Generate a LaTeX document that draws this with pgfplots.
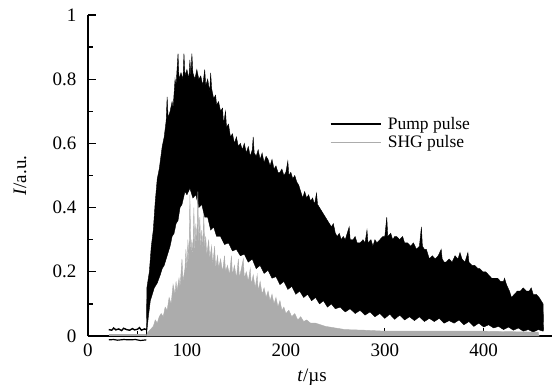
\documentclass[border=0pt]{standalone}
\usepackage{pgfplots}
\pgfplotsset{compat=1.18}
\usepackage{fontspec}
\setmainfont{Liberation Serif}
\definecolor{shg}{RGB}{172,172,172}
\begin{document}
\begin{tikzpicture}
\begin{axis}[
  scale only axis, width=464bp, height=321bp,
  xmin=0, xmax=469, ymin=0, ymax=1,
  axis x line=bottom, axis y line=left,
  axis line style={line width=2pt, -},
  xtick={0,100,200,300,400}, minor xtick={50,150,250,350,450},
  ytick={0,0.2,0.4,0.6,0.8,1}, minor ytick={0.1,0.3,0.5,0.7,0.9},
  yticklabels={0,0.2,0.4,0.6,0.8,1},
  tick align=inside,
  major tick length=8bp, minor tick length=5bp,
  every tick/.style={black, line width=1.4pt},
  /pgf/number format/assume math mode=true,
  tick label style={font=\fontsize{19bp}{22bp}\selectfont},
  xticklabel style={yshift=-4bp},
  yticklabel style={xshift=-8bp},
  label style={font=\fontsize{19bp}{22bp}\selectfont},
  xlabel={\textit{t}/µs}, ylabel={\textit{I}/a.u.},
  xlabel style={at={(axis description cs:0.483,-0.092)}, anchor=north},
  ylabel style={at={(axis description cs:-0.125,0.5)}, anchor=south},
  clip=false,
  legend style={draw=none, fill=none, at={(0.513,0.695)}, anchor=north west,
    font=\fontsize{17.5bp}{21bp}\selectfont, row sep=1bp},
  legend cell align=left,
  legend image code/.code={\draw[#1] (0bp,0bp) -- (50bp,0bp); \path (54bp,0bp);},
]
% Pump pulse: band between upper and lower envelope
\addplot[draw=black, line width=0.4pt, fill=black, forget plot] coordinates {
(59,0.0) (59.5,0.15) (62,0.2) (64,0.28) (66,0.33) (68,0.42) (70,0.49) (72,0.52) (75,0.59) (77,0.62) (79,0.67) (80,0.745) (81,0.68) (83,0.70) (85,0.73) (86,0.71) (88,0.80) (89,0.78) (91,0.88) (92,0.80) (94,0.82) (96,0.80) (97,0.88) (98,0.81) (100,0.83) (102,0.80) (103,0.86) (104,0.81) (105,0.88) (106,0.82) (108,0.80) (110,0.83) (112,0.80) (114,0.81) (116,0.78) (118,0.83) (119,0.78) (121,0.80) (123,0.76) (124,0.82) (125,0.77) (127,0.74) (129,0.75) (130,0.72) (132,0.73) (134,0.70) (136,0.71) (137,0.66) (139,0.70) (140,0.65) (142,0.66) (144,0.62) (146,0.63) (148,0.60) (150,0.62) (152,0.59) (154,0.60) (156,0.58) (158,0.60) (160,0.57) (162,0.59) (164,0.56) (166,0.58) (167,0.62) (168,0.57) (170,0.56) (172,0.58) (174,0.55) (176,0.57) (178,0.54) (180,0.56) (182,0.55) (184,0.53) (186,0.55) (188,0.52) (190,0.53) (192,0.51) (194,0.51) (196,0.52) (198,0.50) (200,0.51) (202,0.545) (203,0.50) (205,0.51) (207,0.49) (209,0.50) (211,0.48) (213,0.47) (215,0.45) (217,0.43) (219,0.45) (221,0.43) (223,0.44) (225,0.42) (227,0.43) (229,0.41) (231,0.445) (232,0.41) (234,0.40) (236,0.39) (238,0.38) (240,0.37) (242,0.36) (244,0.35) (246,0.34) (248,0.35) (250,0.32) (252,0.31) (254,0.32) (256,0.30) (258,0.31) (260,0.30) (262,0.32) (264,0.34) (265,0.30) (268,0.30) (270,0.31) (272,0.29) (275,0.29) (278,0.30) (280,0.29) (282,0.33) (283,0.29) (286,0.30) (288,0.28) (290,0.30) (292,0.29) (295,0.30) (298,0.31) (300,0.31) (302,0.37) (303,0.31) (306,0.32) (308,0.30) (310,0.31) (312,0.31) (315,0.30) (318,0.31) (320,0.29) (323,0.29) (326,0.28) (329,0.29) (332,0.27) (335,0.28) (337,0.34) (338,0.28) (340,0.27) (342,0.27) (345,0.24) (348,0.25) (351,0.24) (354,0.25) (357,0.27) (358,0.24) (360,0.23) (362,0.23) (365,0.24) (368,0.23) (371,0.25) (374,0.24) (376,0.26) (378,0.24) (381,0.23) (384,0.26) (385,0.23) (388,0.22) (391,0.22) (394,0.21) (396,0.21) (399,0.20) (402,0.20) (405,0.19) (408,0.18) (411,0.18) (414,0.18) (417,0.17) (420,0.17) (421,0.18) (423,0.16) (426,0.14) (428,0.12) (431,0.13) (434,0.14) (437,0.14) (440,0.15) (443,0.14) (446,0.14) (448,0.15) (450,0.13) (453,0.13) (456,0.12) (458,0.11) (460,0.10) (460.5,0.02)
(460,0.015) (455,0.02) (450,0.012) (445,0.02) (440,0.015) (435,0.025) (430,0.018) (425,0.028) (420,0.02) (415,0.03) (410,0.025) (405,0.035) (400,0.028) (395,0.04) (390,0.03) (385,0.045) (380,0.035) (375,0.05) (370,0.04) (365,0.048) (360,0.04) (355,0.055) (350,0.045) (345,0.055) (340,0.045) (335,0.06) (330,0.048) (325,0.06) (320,0.05) (315,0.065) (310,0.052) (305,0.068) (300,0.055) (295,0.07) (290,0.06) (285,0.075) (280,0.065) (275,0.08) (270,0.07) (265,0.085) (260,0.075) (255,0.09) (250,0.085) (246,0.10) (242,0.09) (238,0.11) (234,0.10) (230,0.12) (226,0.11) (222,0.13) (218,0.12) (214,0.14) (210,0.13) (206,0.155) (202,0.145) (198,0.17) (194,0.16) (190,0.185) (186,0.18) (182,0.205) (178,0.195) (174,0.22) (170,0.21) (166,0.24) (162,0.23) (158,0.255) (154,0.25) (150,0.27) (146,0.265) (142,0.29) (138,0.285) (134,0.31) (130,0.31) (127,0.34) (124,0.33) (121,0.37) (118,0.37) (115,0.41) (112,0.40) (109,0.44) (106,0.43) (103,0.46) (100,0.44) (98,0.45) (95,0.41) (93,0.40) (91,0.36) (89,0.35) (87,0.32) (85,0.31) (83,0.28) (81,0.26) (79,0.24) (77,0.22) (75,0.21) (73,0.19) (70,0.165) (67,0.15) (65,0.13) (63,0.11) (61,0.06) (59,0.0)
} -- cycle;
% SHG pulse
\addplot[draw=shg, line width=0.4pt, fill=shg, forget plot] coordinates {
(59,0) (60,0.01) (63,0.02) (66,0.03) (68,0.05) (70,0.04) (72,0.06) (74,0.07) (76,0.06) (78,0.09) (80,0.08) (82,0.12) (84,0.10) (86,0.16) (88,0.13) (89,0.17) (90,0.14) (92,0.18) (93,0.15) (95,0.24) (96,0.17) (98,0.21) (99,0.27) (100,0.20) (101,0.30) (102,0.22) (103,0.44) (104,0.25) (105,0.30) (106,0.24) (107,0.40) (108,0.26) (109,0.35) (110,0.27) (111,0.45) (112,0.28) (113,0.37) (114,0.27) (115,0.33) (116,0.26) (117,0.38) (118,0.27) (119,0.31) (120,0.25) (122,0.30) (123,0.24) (125,0.28) (126,0.22) (128,0.28) (129,0.21) (131,0.25) (132,0.21) (134,0.24) (136,0.20) (138,0.25) (139,0.20) (141,0.22) (143,0.19) (145,0.25) (146,0.19) (148,0.22) (150,0.18) (152,0.24) (153,0.18) (155,0.21) (157,0.24) (158,0.18) (160,0.20) (162,0.17) (164,0.21) (165,0.16) (167,0.19) (169,0.15) (171,0.19) (172,0.14) (174,0.17) (176,0.13) (178,0.15) (180,0.12) (182,0.14) (184,0.11) (186,0.13) (188,0.10) (190,0.12) (192,0.09) (194,0.11) (196,0.08) (198,0.09) (200,0.07) (203,0.08) (206,0.06) (209,0.07) (212,0.05) (215,0.06) (218,0.045) (221,0.05) (225,0.04) (230,0.04) (235,0.035) (240,0.03) (250,0.025) (260,0.02) (280,0.018) (300,0.015) (350,0.015) (400,0.015) (455,0.012) (456,0)
} -- cycle;
% baseline before the pulse
\addplot[shg, line width=2pt, forget plot] coordinates {(21,0.004) (59,0.004)};
\addplot[black, line width=1.4pt, forget plot] coordinates {
(21,0.02) (24,0.018) (26,0.025) (28,0.019) (31,0.022) (34,0.017) (36,0.024) (39,0.02) (42,0.018) (45,0.023) (47,0.019) (50,0.021) (52,0.026) (54,0.018) (57,0.022) (59,0.02)};
\addplot[black, line width=1.2pt, forget plot] coordinates {
(21,-0.012) (26,-0.011) (30,-0.013) (36,-0.011) (42,-0.012) (48,-0.011) (53,-0.014) (59,-0.012)};
\addlegendimage{black, line width=2.6pt}
\addlegendentry{Pump pulse}
\addlegendimage{shg, line width=1.5pt}
\addlegendentry{SHG pulse}
\coordinate (bl) at (rel axis cs:0,0);
\end{axis}
\pgfresetboundingbox
\path (bl) ++(-88bp,-49bp) rectangle ++(552bp,385bp);
\end{tikzpicture}
\end{document}
